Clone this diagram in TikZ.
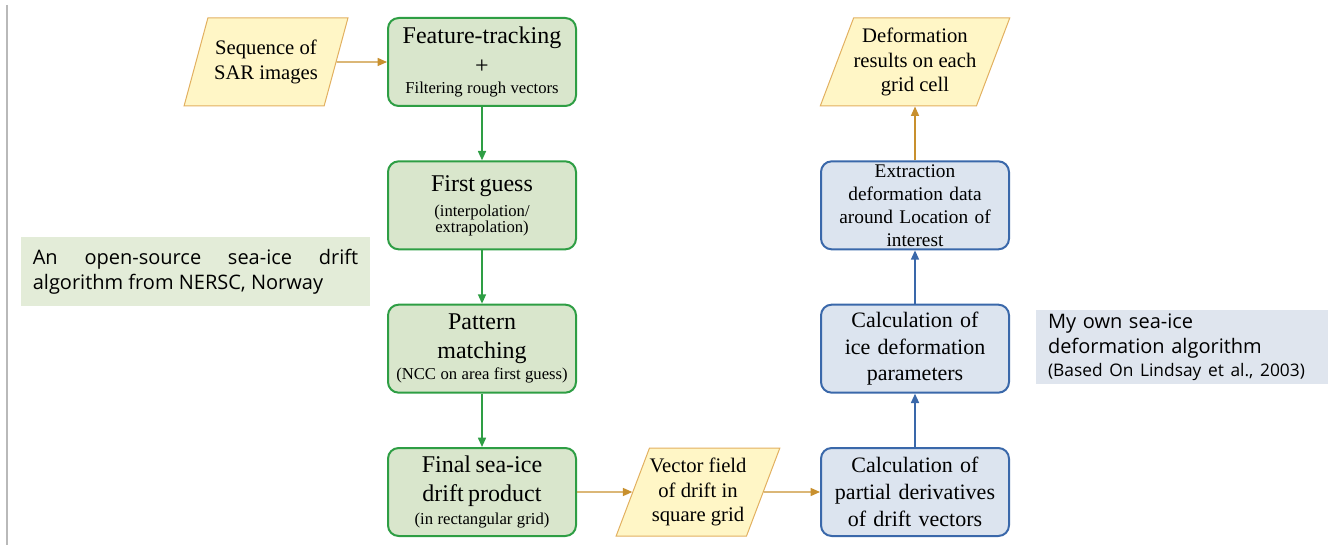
\documentclass[tikz,border=0pt]{standalone}
\usepackage{fontspec}
\setmainfont{Liberation Serif}
\newfontfamily\notefont{Open Sans}
\usepackage{xcolor}
\usetikzlibrary{shapes.geometric, arrows.meta}

\definecolor{edgegreen}{HTML}{2E9E44}
\definecolor{fillgreen}{HTML}{D9E6CC}
\definecolor{edgeblue}{HTML}{3A68AA}
\definecolor{fillblue}{HTML}{DCE4EF}
\definecolor{dataedge}{HTML}{E2B060}
\definecolor{datafill}{HTML}{FFF6C6}
\definecolor{flowbrown}{HTML}{C8902E}
\definecolor{notegreen}{HTML}{E3ECD8}
\definecolor{noteblue}{HTML}{DFE5EE}

\newcommand{\bigline}{\fontsize{18}{21}\selectfont}
\newcommand{\smallline}{\fontsize{12.5}{15}\selectfont}

\begin{document}
\begin{tikzpicture}[>={Triangle[length=7pt,width=6pt]}, x=0.75pt, y=-0.75pt,
			node distance=107.5pt,
			stepgreen/.style={draw=edgegreen, fill=fillgreen, line width=1.5pt,
				rounded corners=8pt, minimum width=141pt, minimum height=66pt,
				text width=137pt, align=center, inner sep=0pt},
			stepblue/.style={stepgreen, draw=edgeblue, fill=fillblue,
				font=\fontsize{16.5}{20}\selectfont},
			databox/.style={trapezium, trapezium left angle=64,
				trapezium right angle=116, trapezium stretches=true,
				draw=dataedge, fill=datafill, line width=0.75pt,
				minimum width=123pt, minimum height=66pt, align=center,
				inner sep=0pt, font=\fontsize{15.5}{18.5}\selectfont},
			notebox/.style={inner xsep=9pt, inner ysep=0pt,
				font=\notefont\fontsize{15}{18.75}\selectfont},
			greenflow/.style={->, edgegreen, line width=1.2pt},
			blueflow/.style={->, edgeblue, line width=1.2pt},
			brownflow/.style={->, flowbrown, line width=1pt}]
		\useasboundingbox (0,0) rectangle (1328,545);
		\draw[gray!55, line width=1.5pt] (7,5) -- (7,545);

		% drift part (NERSC)
		\node[stepgreen] (track) at (482,62) {\bigline Feature-tracking\\[1.5pt]
			+\\[3pt] \smallline Filtering rough vectors};
		\node[stepgreen, below of=track] (guess) {\bigline First guess\\[3.75pt]
			\smallline (interpolation/\\ extrapolation)};
		\node[stepgreen, below of=guess] (match) {\bigline Pattern\\[0.75pt]
			matching\\[2.25pt] \smallline (NCC on area first guess)};
		\node[stepgreen, below of=match] (final) {\bigline Final sea-ice\\[0.75pt]
			drift product\\[3.75pt] \smallline (in rectangular grid)};
		\node[databox, left of=track, node distance=162pt] (sar) {Sequence of\\ SAR images};
		\node[databox, right of=final, node distance=162pt] (field) {Vector field\\
			of drift in\\ square grid};

		% deformation part
		\node[stepblue, right of=field, node distance=162.75pt] (deriv)
			{Calculation of\\ partial derivatives\\ of drift vectors};
		\node[stepblue, above of=deriv] (param)
			{Calculation of\\ ice deformation\\ parameters};
		\node[stepblue, above of=param, font=\fontsize{14.5}{17.25}\selectfont] (extract)
			{Extraction\\ deformation data\\ around Location of\\ interest};
		\node[databox, above of=extract] (result) {Deformation\\ results on each\\ grid cell};

		% remarks
		\node[notebox, fill=notegreen, text width=244pt, align=justify,
			minimum height=52pt] (nersc) at (195.5,271.5)
			{An open-source sea-ice drift\linebreak algorithm from NERSC, Norway};
		\node[notebox, fill=noteblue, text width=201pt, align=left,
			minimum height=55.5pt] (own) at (1182,347)
			{My own sea-ice\\ deformation algorithm\\[-1.5pt]
			{\fontsize{13}{17.25}\selectfont (Based On Lindsay et al., 2003)}};

		\draw[brownflow] (sar) -- (track);
		\draw[greenflow] (track) -- (guess);
		\draw[greenflow] (guess) -- (match);
		\draw[greenflow] (match) -- (final);
		\draw[brownflow] (final) -- (field);
		\draw[brownflow] (field) -- (deriv);
		\draw[blueflow] (deriv) -- (param);
		\draw[blueflow] (param) -- (extract);
		\draw[brownflow] (extract.north) -- (extract.north |- result.south);
	\end{tikzpicture}
\end{document}
